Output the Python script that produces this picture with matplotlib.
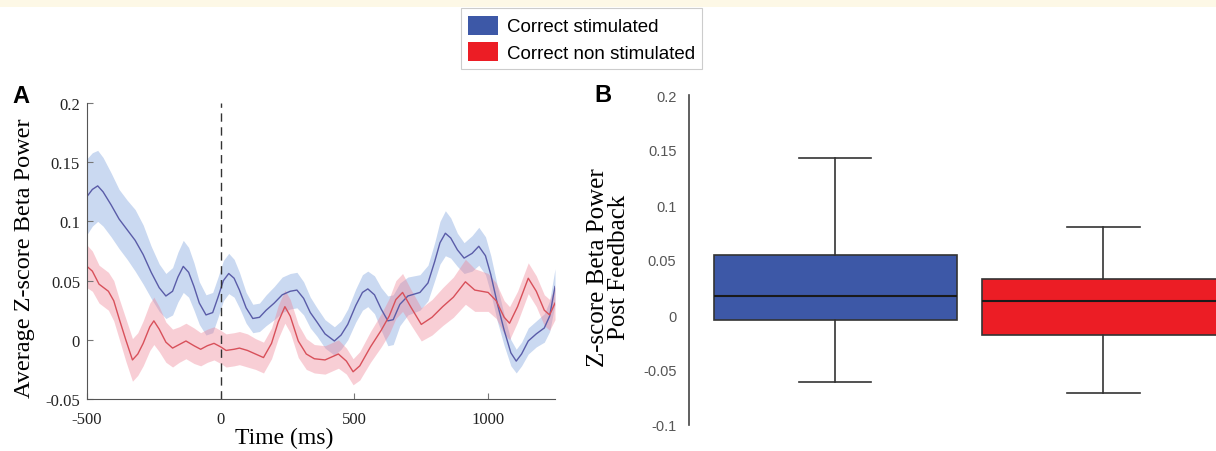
import matplotlib
matplotlib.use('Agg')
import matplotlib.pyplot as plt
from matplotlib.patches import Patch, Rectangle

# panel A: mean z-scored beta power with shaded error band
t_stim = [-500, -480, -460, -440, -410, -380, -350, -320, -290, -260, -230, -205,
          -180, -160, -140, -120, -100, -80, -55, -30, -10, 10, 30, 50, 70, 95,
          120, 145, 170, 200, 230, 260, 285, 310, 335, 360, 390, 425, 450, 475,
          505, 530, 550, 575, 600, 625, 645, 670, 700, 745, 775, 800, 820, 840,
          860, 885, 910, 940, 965, 990, 1010, 1035, 1060, 1085, 1105, 1125, 1150,
          1180, 1210, 1230, 1250]
m_stim = [0.121, 0.127, 0.130, 0.125, 0.114, 0.102, 0.093, 0.084, 0.072, 0.057,
          0.044, 0.037, 0.041, 0.053, 0.062, 0.057, 0.045, 0.031, 0.021, 0.023,
          0.036, 0.050, 0.056, 0.052, 0.042, 0.027, 0.018, 0.019, 0.025, 0.031,
          0.038, 0.041, 0.042, 0.035, 0.023, 0.015, 0.005, -0.001, 0.004, 0.013,
          0.029, 0.040, 0.043, 0.038, 0.026, 0.016, 0.017, 0.030, 0.037, 0.040,
          0.048, 0.066, 0.082, 0.090, 0.086, 0.076, 0.069, 0.073, 0.079, 0.071,
          0.055, 0.030, 0.008, -0.011, -0.018, -0.012, -0.001, 0.005, 0.010,
          0.020, 0.045]
e_stim = [0.032, 0.031, 0.030, 0.029, 0.027, 0.025, 0.025, 0.026, 0.025, 0.022,
          0.020, 0.019, 0.020, 0.021, 0.022, 0.021, 0.020, 0.018, 0.017, 0.017,
          0.017, 0.017, 0.017, 0.016, 0.015, 0.013, 0.012, 0.012, 0.013, 0.014,
          0.015, 0.015, 0.015, 0.014, 0.013, 0.012, 0.012, 0.012, 0.012, 0.013,
          0.014, 0.015, 0.015, 0.016, 0.018, 0.021, 0.021, 0.018, 0.016, 0.015,
          0.015, 0.016, 0.018, 0.019, 0.017, 0.014, 0.013, 0.015, 0.016, 0.016,
          0.016, 0.015, 0.013, 0.011, 0.010, 0.010, 0.011, 0.011, 0.012, 0.013,
          0.015]

t_non = [-500, -480, -455, -420, -400, -380, -355, -330, -310, -290, -265, -250,
         -230, -205, -180, -155, -130, -100, -75, -50, -25, 0, 20, 50, 70, 100,
         130, 160, 190, 215, 240, 260, 290, 320, 350, 390, 420, 440, 470, 495,
         520, 560, 600, 630, 655, 680, 710, 750, 790, 830, 870, 915, 950, 1000,
         1030, 1060, 1080, 1110, 1150, 1180, 1210, 1230, 1250]
m_non = [0.062, 0.058, 0.047, 0.041, 0.033, 0.018, 0.000, -0.017, -0.012, -0.003,
         0.011, 0.016, 0.009, -0.002, -0.007, -0.004, -0.001, -0.005, -0.008,
         -0.005, -0.003, -0.006, -0.009, -0.008, -0.007, -0.009, -0.012, -0.015,
         -0.003, 0.015, 0.028, 0.020, -0.001, -0.012, -0.016, -0.017, -0.014,
         -0.012, -0.018, -0.027, -0.022, -0.006, 0.008, 0.020, 0.034, 0.040,
         0.028, 0.013, 0.019, 0.028, 0.036, 0.049, 0.042, 0.040, 0.033, 0.019,
         0.014, 0.028, 0.052, 0.041, 0.025, 0.021, 0.031]
e_non = [0.018, 0.017, 0.016, 0.016, 0.017, 0.017, 0.018, 0.018, 0.018, 0.019,
         0.020, 0.020, 0.019, 0.017, 0.016, 0.015, 0.015, 0.015, 0.014, 0.014,
         0.014, 0.014, 0.014, 0.014, 0.014, 0.014, 0.013, 0.013, 0.013, 0.014,
         0.014, 0.014, 0.014, 0.013, 0.012, 0.012, 0.012, 0.012, 0.011, 0.011,
         0.012, 0.013, 0.014, 0.015, 0.016, 0.016, 0.015, 0.014, 0.015, 0.016,
         0.017, 0.019, 0.018, 0.016, 0.015, 0.014, 0.014, 0.013, 0.013, 0.013,
         0.013, 0.013, 0.014]

# panel B: box summaries (stimulated, non stimulated)
box_labels = ['Correct stimulated', 'Correct non stimulated']
whis_lo = [-0.061, -0.071]
box_q1 = [-0.0045, -0.018]
box_med = [0.017, 0.0127]
box_q3 = [0.055, 0.0327]
whis_hi = [0.143, 0.080]

blue_line, blue_band, blue_box = '#5a5ca8', '#7ba0dc', '#3d58a7'
red_line, red_band, red_box = '#d8505a', '#ef7f92', '#ec1d25'
serif = ['Liberation Serif', 'DejaVu Serif']
sans = ['Liberation Sans', 'DejaVu Sans']

fig = plt.figure(figsize=(12.16, 4.52), dpi=100)
fig.patches.append(Rectangle((0, 1 - 8 / 452), 1, 8 / 452, transform=fig.transFigure,
                             facecolor='#fdf8e6', edgecolor='none'))

# ---- panel A
ax = fig.add_axes([87 / 1216, 52 / 452, 468 / 1216, 296 / 452])
lo = [m - e for m, e in zip(m_stim, e_stim)]
hi = [m + e for m, e in zip(m_stim, e_stim)]
ax.fill_between(t_stim, lo, hi, color=blue_band, alpha=0.4, linewidth=0)
ax.plot(t_stim, m_stim, color=blue_line, lw=1.0)
lo = [m - e for m, e in zip(m_non, e_non)]
hi = [m + e for m, e in zip(m_non, e_non)]
ax.fill_between(t_non, lo, hi, color=red_band, alpha=0.38, linewidth=0)
ax.plot(t_non, m_non, color=red_line, lw=1.0)
ax.axvline(0, color='#333333', lw=1.0, ls=(0, (6, 4)))

ax.set_xlim(-500, 1250)
ax.set_ylim(-0.05, 0.2)
ax.set_xticks([-500, 0, 500, 1000])
ax.set_xticklabels(['-500', '0', '500', '1000'])
ax.set_yticks([-0.05, 0, 0.05, 0.1, 0.15, 0.2])
ax.set_yticklabels(['-0.05', '0', '0.05', '0.1', '0.15', '0.2'])
for s in ['top', 'right']:
    ax.spines[s].set_visible(False)
for s in ['left', 'bottom']:
    ax.spines[s].set_color('#555555')
ax.tick_params(direction='in', length=4, color='#777777', labelsize=12, pad=5)
ax.tick_params(axis='x', pad=9)
for lab in ax.get_xticklabels() + ax.get_yticklabels():
    lab.set_family(serif)
    lab.set_color('#222222')
ax.set_xlabel('Time (ms)', fontsize=17, family=serif)
ax.xaxis.set_label_coords(0.422, -0.095)
ax.set_ylabel('Average Z-score Beta Power', fontsize=17.5, family=serif)
ax.yaxis.set_label_coords(-0.111, 0.48)

# ---- panel B
bx = fig.add_axes([689 / 1216, 26 / 452, 527 / 1216, 330 / 452])
stats = []
for i in range(2):
    stats.append({'whislo': whis_lo[i], 'q1': box_q1[i], 'med': box_med[i],
                  'q3': box_q3[i], 'whishi': whis_hi[i], 'label': box_labels[i]})
bp = bx.bxp(stats, positions=[1, 2], widths=0.907, patch_artist=True,
            showfliers=False, capwidths=[0.27, 0.27],
            boxprops=dict(edgecolor='#333333', linewidth=1.2),
            medianprops=dict(color='#1a1a1a', linewidth=1.5),
            whiskerprops=dict(color='#333333', linewidth=1.2),
            capprops=dict(color='#333333', linewidth=1.2))
for patch, c in zip(bp['boxes'], [blue_box, red_box]):
    patch.set_facecolor(c)
bx.set_xlim(0.455, 2.42)
bx.set_ylim(-0.1, 0.2)
bx.set_xticks([])
bx.set_yticks([-0.1, -0.05, 0, 0.05, 0.1, 0.15, 0.2])
bx.set_yticklabels(['-0.1', '-0.05', '0', '0.05', '0.1', '0.15', '0.2'])
for s in ['top', 'right', 'bottom']:
    bx.spines[s].set_visible(False)
bx.spines['left'].set_color('#444444')
bx.spines['left'].set_linewidth(1.2)
bx.tick_params(axis='y', length=0, pad=9, labelsize=10.5, labelcolor='#555555')
for lab in bx.get_yticklabels():
    lab.set_family(sans)
bx.set_ylabel('Z-score Beta Power\nPost Feedback', fontsize=18, family=serif,
              linespacing=0.95)
bx.yaxis.set_label_coords(-0.112, 0.48)

# panel letters and shared legend
fig.text(12 / 1216, 1 - 97 / 452, 'A', fontsize=17, fontweight='bold', family=sans,
         va='center', ha='left')
fig.text(594 / 1216, 1 - 95 / 452, 'B', fontsize=17, fontweight='bold', family=sans,
         va='center', ha='left')
handles = [Patch(facecolor=blue_box, edgecolor='none'),
           Patch(facecolor=red_box, edgecolor='none')]
leg = fig.legend(handles, box_labels, loc='upper center',
                 bbox_to_anchor=(581.5 / 1216, 1 - 9 / 452), frameon=True,
                 fancybox=False, edgecolor='#cccccc', framealpha=1,
                 prop={'family': sans, 'size': 13.5}, handlelength=1.6,
                 handleheight=1.2, handletextpad=0.45, labelspacing=0.35,
                 borderpad=0.4, borderaxespad=0)
leg.get_frame().set_linewidth(0.8)

fig.savefig('out.png', dpi=100)
